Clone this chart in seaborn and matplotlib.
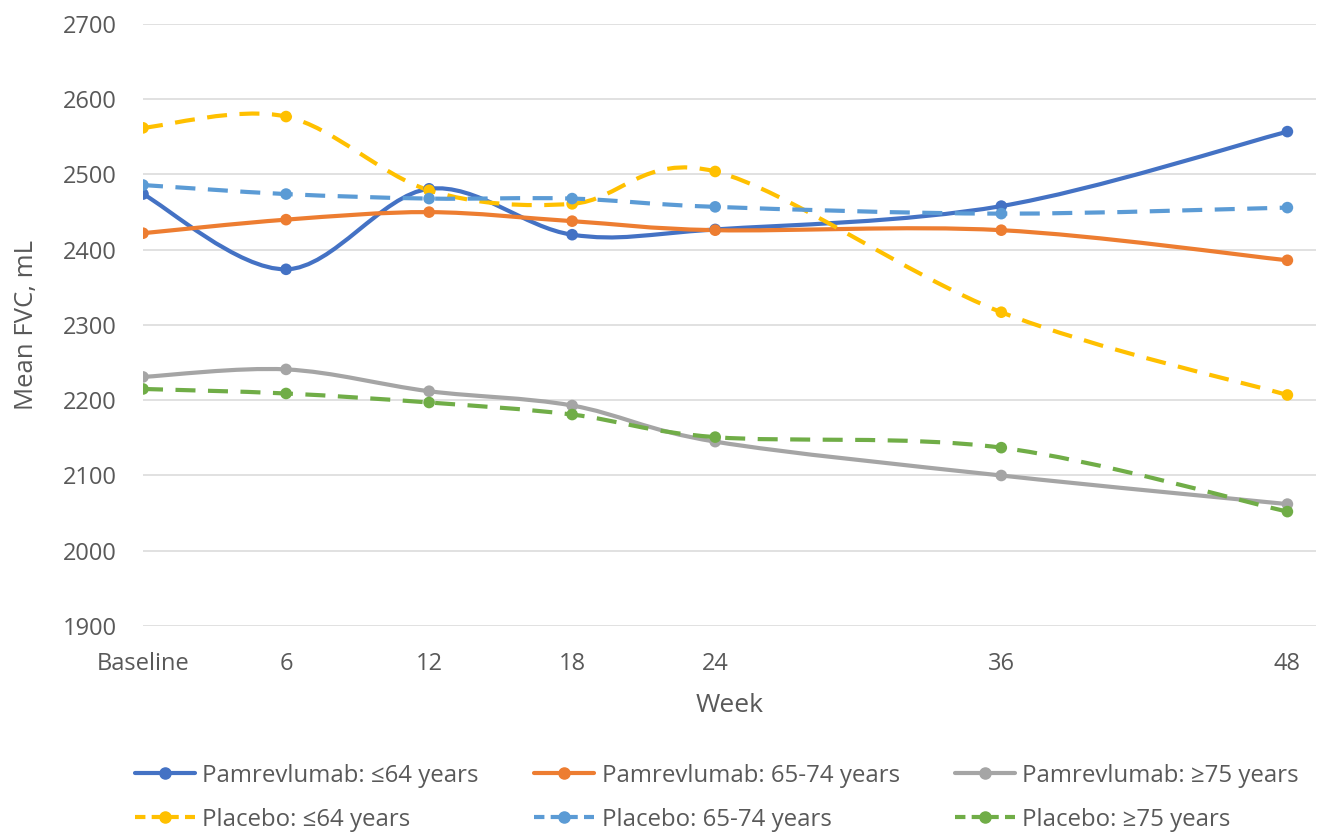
import numpy as np
import pandas as pd
import matplotlib
matplotlib.use("Agg")
import matplotlib.pyplot as plt
from matplotlib.path import Path
from matplotlib.patches import PathPatch
from matplotlib.lines import Line2D
import seaborn as sns

# ---- data ----
weeks = [0, 6, 12, 18, 24, 36, 48]
week_labels = ["Baseline", "6", "12", "18", "24", "36", "48"]

pam_le64 = [2474, 2374, 2481, 2420, 2427, 2458, 2557]
pam_65_74 = [2422, 2440, 2450, 2438, 2426, 2426, 2386]
pam_ge75 = [2231, 2241, 2212, 2193, 2145, 2100, 2062]
pbo_le64 = [2562, 2577, 2479, 2461, 2504, 2317, 2207]
pbo_65_74 = [2486, 2474, 2468, 2468, 2457, 2448, 2456]
pbo_ge75 = [2215, 2209, 2197, 2181, 2151, 2137, 2052]

series_names = [
    "Pamrevlumab: \u226464 years",
    "Pamrevlumab: 65-74 years",
    "Pamrevlumab: \u226575 years",
    "Placebo: \u226464 years",
    "Placebo: 65-74 years",
    "Placebo: \u226575 years",
]
series_values = [pam_le64, pam_65_74, pam_ge75, pbo_le64, pbo_65_74, pbo_ge75]
colors = ["#4472C4", "#ED7D31", "#A5A5A5", "#FFC000", "#5B9BD5", "#70AD47"]
dashed = [False, False, False, True, True, True]

y_ticks = [1900, 2000, 2100, 2200, 2300, 2400, 2500, 2600, 2700]

# ---- long table ----
rows = []
for name, vals in zip(series_names, series_values):
    for w, v in zip(weeks, vals):
        rows.append({"week": w, "fvc": v, "series": name})
df = pd.DataFrame(rows)

sns.set_theme(style="white")
plt.rcParams["font.family"] = ["Open Sans", "DejaVu Sans"]
text_color = "#595959"

fig = plt.figure(figsize=(13.19, 8.33), dpi=100)
ax = fig.add_axes([143 / 1319, 1 - 626 / 833, 1173 / 1319, (626 - 24) / 833])

ax.set_xlim(0, 49.2)
ax.set_ylim(1900, 2700)
ax.set_yticks(y_ticks)
ax.yaxis.grid(True, color="#D9D9D9", lw=1.1)
ax.set_axisbelow(True)
for s in ax.spines.values():
    s.set_visible(False)


def smooth_path(xs, ys):
    pts = np.column_stack([xs, ys]).astype(float)
    n = len(pts)
    verts = [pts[0]]
    codes = [Path.MOVETO]
    for i in range(n - 1):
        p0 = pts[i - 1] if i > 0 else pts[i]
        p1 = pts[i]
        p2 = pts[i + 1]
        p3 = pts[i + 2] if i + 2 < n else pts[i + 1]
        c1 = p1 + (p2 - p0) / 6.0
        c2 = p2 - (p3 - p1) / 6.0
        verts += [c1, c2, p2]
        codes += [Path.CURVE4] * 3
    return Path(verts, codes)


lw = 3.0
for name, vals, col, d in zip(series_names, series_values, colors, dashed):
    patch = PathPatch(
        smooth_path(weeks, vals), fill=False, edgecolor=col, lw=lw,
        linestyle=(0, (4.8, 3)) if d else "-", capstyle="butt", zorder=2,
    )
    ax.add_patch(patch)

sns.scatterplot(
    data=df, x="week", y="fvc", hue="series", hue_order=series_names,
    palette=dict(zip(series_names, colors)), s=70, edgecolor="none",
    legend=False, ax=ax, zorder=3,
)

ax.set_xticks(weeks)
ax.set_xticklabels(week_labels)
ax.tick_params(axis="both", length=0, labelsize=17, labelcolor=text_color)
ax.tick_params(axis="y", pad=19)
ax.tick_params(axis="x", pad=19)
ax.set_xlabel("Week", fontsize=19, color=text_color, labelpad=12)
ax.set_ylabel("Mean FVC, mL", fontsize=18.5, color=text_color)
ax.yaxis.set_label_coords(-0.089, 0.5)

handles = []
for name, col, d in zip(series_names, colors, dashed):
    handles.append(Line2D([], [], color=col, lw=lw, marker="o", markersize=8,
                          linestyle=(0, (2.5, 1.5)) if d else "-", label=name))
order = [0, 3, 1, 4, 2, 5]
leg = fig.legend([handles[i] for i in order], [series_names[i] for i in order],
                 loc="center", bbox_to_anchor=(0.5436, 0.0425), ncol=3,
                 frameon=False, fontsize=17.3, handlelength=2.5,
                 handletextpad=0.3, columnspacing=2.3, labelspacing=0.84)
for t in leg.get_texts():
    t.set_color(text_color)

fig.savefig("out.png", dpi=100)
